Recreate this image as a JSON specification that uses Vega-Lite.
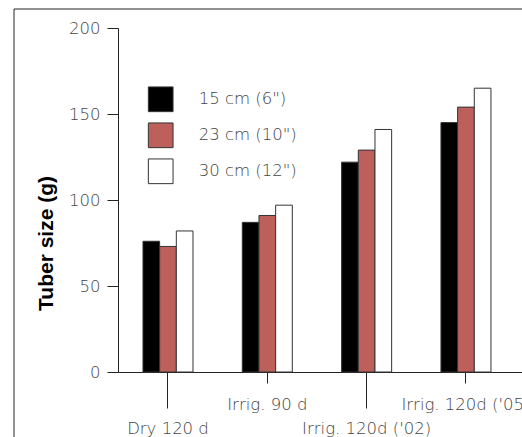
{
  "$schema": "https://vega.github.io/schema/vega-lite/v6.json",
  "width": 404,
  "height": 344,
  "autosize": {"type": "none"},
  "padding": {"left": 118, "top": 28, "right": 0, "bottom": 65},
  "background": "white",
  "config": {"view": {"stroke": null}},
  "data": {
    "values": [
      {"group": "Dry 120 d", "size": "15 cm (6\")", "value": 76},
      {"group": "Dry 120 d", "size": "23 cm (10\")", "value": 73},
      {"group": "Dry 120 d", "size": "30 cm (12\")", "value": 82},
      {"group": "Irrig. 90 d", "size": "15 cm (6\")", "value": 87},
      {"group": "Irrig. 90 d", "size": "23 cm (10\")", "value": 91},
      {"group": "Irrig. 90 d", "size": "30 cm (12\")", "value": 97},
      {"group": "Irrig. 120d ('02)", "size": "15 cm (6\")", "value": 122},
      {"group": "Irrig. 120d ('02)", "size": "23 cm (10\")", "value": 129},
      {"group": "Irrig. 120d ('02)", "size": "30 cm (12\")", "value": 141},
      {"group": "Irrig. 120d ('05)", "size": "15 cm (6\")", "value": 145},
      {"group": "Irrig. 120d ('05)", "size": "23 cm (10\")", "value": 154},
      {"group": "Irrig. 120d ('05)", "size": "30 cm (12\")", "value": 165}
    ]
  },
  "layer": [
    {
      "mark": {"type": "bar", "stroke": "#333", "strokeWidth": 1},
      "encoding": {
        "x": {
          "field": "group",
          "type": "nominal",
          "sort": null,
          "scale": {"paddingInner": 0.4965, "paddingOuter": 0.282, "align": 0.446},
          "axis": {
            "title": null,
            "labelAngle": 0,
            "labelFont": "DejaVu Sans",
            "labelFontSize": 16.5,
            "labelFontWeight": 200,
            "labelColor": "#444",
            "labelOverlap": false,
            "labelBound": false,
            "labelFlush": false,
            "labelLimit": 0,
            "domainColor": "#222",
            "tickColor": "#222",
            "tickSize": {"condition": {"test": "datum.value === 'Dry 120 d' || datum.value === \"Irrig. 120d ('02)\"", "value": 36}, "value": 11},
            "labelPadding": {"condition": {"test": "datum.value === 'Dry 120 d' || datum.value === \"Irrig. 120d ('02)\"", "value": 12}, "value": 13}
          }
        },
        "xOffset": {"field": "size", "type": "nominal", "sort": null, "scale": {"paddingInner": 0, "paddingOuter": 0}},
        "y": {
          "field": "value",
          "type": "quantitative",
          "scale": {"domain": [0, 200], "nice": false},
          "axis": {
            "title": "Tuber size (g)",
            "titleFont": "Liberation Sans",
            "titleFontSize": 21,
            "titleFontWeight": "bold",
            "titleColor": "#000",
            "titleAngle": -90,
            "titleAlign": "center",
            "titleBaseline": "alphabetic",
            "titleX": -66,
            "titleY": 215,
            "values": [0, 50, 100, 150, 200],
            "grid": false,
            "labelFont": "DejaVu Sans",
            "labelFontSize": 16.5,
            "labelFontWeight": 200,
            "labelColor": "#444",
            "labelPadding": 7,
            "tickSize": 11,
            "tickColor": "#222",
            "domainColor": "#222"
          }
        },
        "color": {
          "field": "size",
          "type": "nominal",
          "sort": null,
          "scale": {"range": ["#000000", "#bd605c", "#ffffff"]},
          "legend": {
            "orient": "none",
            "legendX": 29.7,
            "legendY": 58.3,
            "title": null,
            "padding": 0,
            "symbolType": "square",
            "symbolSize": 610,
            "symbolStrokeColor": "#333",
            "symbolStrokeWidth": 1,
            "symbolOpacity": 1,
            "labelFont": "DejaVu Sans",
            "labelFontSize": 16.5,
            "labelFontWeight": 200,
            "labelColor": "#444",
            "labelOffset": 25,
            "rowPadding": 6
          }
        }
      }
    },
    {
      "mark": {"type": "point", "opacity": 0},
      "encoding": {
        "x": {"field": "group", "type": "nominal", "sort": null},
        "y": {"field": "value", "type": "quantitative"},
        "shape": {
          "datum": "frame",
          "legend": {
            "orient": "none",
            "legendX": -104.5,
            "legendY": -19.5,
            "title": null,
            "padding": 300,
            "strokeColor": "#222",
            "symbolOpacity": 0,
            "labelOpacity": 0
          }
        }
      }
    }
  ]
}
